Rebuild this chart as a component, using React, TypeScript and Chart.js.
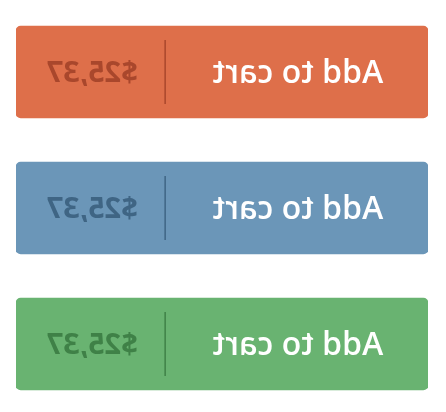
import { useEffect, useRef } from "react";
import { Chart, registerables, type Plugin } from "chart.js";

Chart.register(...registerables);

const buttons = ["orange", "blue", "green"];
const widths = [1, 1, 1];
const captions = ["Add to cart", "Add to cart", "Add to cart"];
const prices = ["$25,37", "$25,37", "$25,37"];
const fills = ["#DE6F4A", "#6B96B8", "#69B371"];
const darks = ["#A9472C", "#3F6584", "#3F8147"];

const buttonText: Plugin<"bar"> = {
  id: "buttonText",
  afterDatasetsDraw(chart) {
    const ctx = chart.ctx;
    const meta = chart.getDatasetMeta(0);
    meta.data.forEach((bar: any, i) => {
      const { x, y, base, height } = bar.getProps(["x", "y", "base", "height"], true);
      const left = base;
      const w = x - base;
      const divX = left + w * 0.638;
      ctx.save();
      ctx.strokeStyle = darks[i];
      ctx.lineWidth = 1.5;
      ctx.beginPath();
      ctx.moveTo(divX, y - height / 2 + 14);
      ctx.lineTo(divX, y + height / 2 - 14);
      ctx.stroke();
      ctx.textAlign = "center";
      ctx.textBaseline = "middle";
      ctx.fillStyle = "#ffffff";
      ctx.font = "600 32px 'Open Sans', sans-serif";
      ctx.fillText(captions[i], left + w * 0.316, y + 2);
      ctx.fillStyle = darks[i];
      ctx.font = "700 29px 'Open Sans', sans-serif";
      ctx.fillText(prices[i], left + w * 0.815, y + 2);
      ctx.restore();
    });
  },
};

export default function App() {
  const ref = useRef<HTMLCanvasElement | null>(null);
  useEffect(() => {
    if (!ref.current) return;
    const chart = new Chart(ref.current, {
      type: "bar",
      data: {
        labels: buttons,
        datasets: [
          {
            data: widths,
            backgroundColor: fills,
            borderRadius: 5,
            borderSkipped: false,
            barThickness: 92,
          },
        ],
      },
      options: {
        indexAxis: "y",
        animation: false,
        responsive: false,
        layout: { padding: { left: 18, right: 16, top: 4, bottom: 0 } },
        plugins: { legend: { display: false }, tooltip: { enabled: false } },
        scales: {
          x: { display: false, min: 0, max: 1 },
          y: { display: false },
        },
      },
      plugins: [buttonText],
    });
    return () => chart.destroy();
  }, []);
  return (
    <div style={{ position: "fixed", left: 0, top: 0, width: 446, height: 412, background: "#fff" }}>
      <canvas ref={ref} width={446} height={412} style={{ transform: "scaleX(-1)", display: "block" }} />
    </div>
  );
}
